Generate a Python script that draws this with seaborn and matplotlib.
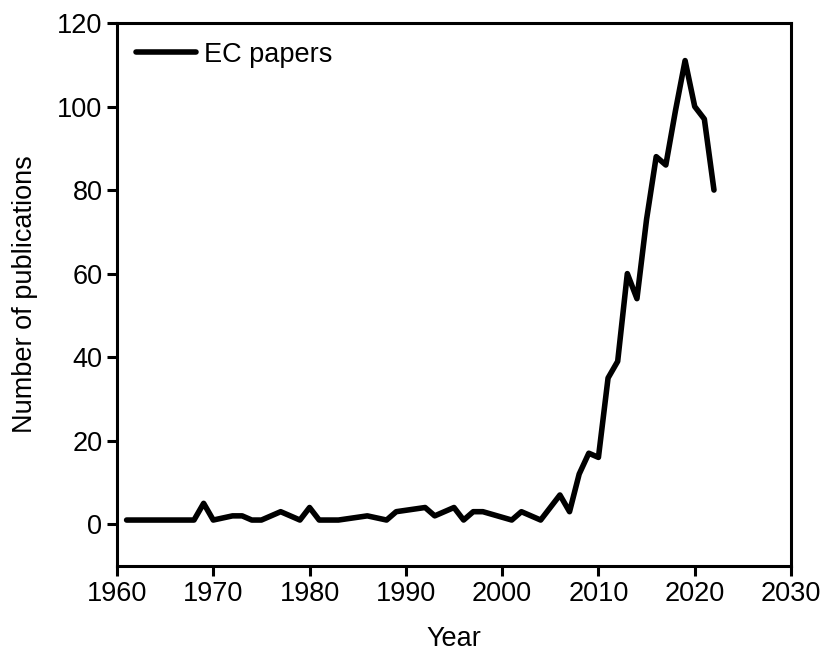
import matplotlib
matplotlib.use("Agg")
import matplotlib.pyplot as plt
import seaborn as sns
import pandas as pd

years = [1961, 1962, 1963, 1964, 1965, 1966, 1967, 1968, 1969, 1970,
         1972, 1973, 1974, 1975, 1977, 1979, 1980, 1981, 1983, 1986,
         1988, 1989, 1992, 1993, 1995, 1996, 1997, 1998, 2001, 2002,
         2004, 2006, 2007, 2008, 2009, 2010, 2011, 2012, 2013, 2014,
         2015, 2016, 2017, 2018, 2019, 2020, 2021, 2022]
papers = [1, 1, 1, 1, 1, 1, 1, 1, 5, 1,
          2, 2, 1, 1, 3, 1, 4, 1, 1, 2,
          1, 3, 4, 2, 4, 1, 3, 3, 1, 3,
          1, 7, 3, 12, 17, 16, 35, 39, 60, 54,
          73, 88, 86, 99, 111, 100, 97, 80]
x_ticks = [1960, 1970, 1980, 1990, 2000, 2010, 2020, 2030]
y_ticks = [0, 20, 40, 60, 80, 100, 120]

sns.set_style("ticks")
plt.rcParams['font.family'] = ['Liberation Sans', 'DejaVu Sans']
plt.rcParams['font.size'] = 19.5
plt.rcParams['text.color'] = 'black'
plt.rcParams['axes.labelcolor'] = 'black'
plt.rcParams['xtick.color'] = 'black'
plt.rcParams['ytick.color'] = 'black'

df = pd.DataFrame({"Year": years, "Number": papers})

fig = plt.figure(figsize=(8.22, 6.55), dpi=100)
ax = fig.add_axes([0.1423, 0.1359, 0.82, 0.829])
sns.lineplot(data=df, x="Year", y="Number", ax=ax, color="black",
             linewidth=4.0, label="EC papers")

ax.set_xlim(1960, 2030)
ax.set_ylim(-10, 120)
ax.set_xticks(x_ticks)
ax.set_yticks(y_ticks)
ax.tick_params(axis="both", labelsize=19.5, width=2.2, length=7, direction="out",
               color="black", labelcolor="black")
for s in ax.spines.values():
    s.set_linewidth(2.2)
    s.set_color("black")
ax.set_xlabel("Year", fontsize=19.5, labelpad=14, color="black")
ax.set_ylabel("Number of publications", fontsize=19.5, labelpad=14, color="black")
leg = ax.legend(loc="upper left", frameon=False, fontsize=19.5, handlelength=2.2,
                handletextpad=0.3, borderaxespad=0.3)
for t in leg.get_texts():
    t.set_color("black")

fig.savefig("out.png", dpi=100)
